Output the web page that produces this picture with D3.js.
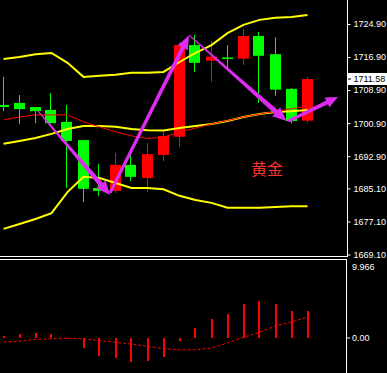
<!DOCTYPE html>
<html>
<head>
<meta charset="utf-8">
<script src="https://cdn.jsdelivr.net/npm/d3@7/dist/d3.min.js"></script>
<style>
  body { margin: 0; background: #000; }
  svg { display: block; }
  .ax text { font: 9px "Liberation Sans", Arial, sans-serif; fill: #fff; }
</style>
</head>
<body>
<script>
// candle data, one row per bar: open, high, low, close
var opens  = [1705.3, 1705.8, 1704.8, 1704.1, 1701.2, 1696.8, 1685.2, 1684.5, 1690.8, 1687.6,
              1693.2, 1697.6, 1719.8, 1716.0, 1716.8, 1716.5, 1722.0, 1717.6, 1709.2, 1701.5];
var highs  = [1712.1, 1707.7, 1704.8, 1708.2, 1705.3, 1696.8, 1691.0, 1693.7, 1693.4, 1696.1,
              1698.8, 1720.5, 1722.2, 1720.8, 1719.8, 1723.7, 1723.0, 1721.7, 1709.4, 1712.1];
var lows   = [1703.8, 1700.7, 1700.9, 1700.8, 1685.2, 1681.8, 1683.3, 1684.0, 1686.9, 1684.2,
              1691.7, 1695.1, 1713.3, 1710.9, 1713.8, 1715.0, 1705.8, 1707.5, 1700.8, 1701.0];
var closes = [1704.8, 1704.3, 1703.8, 1700.9, 1696.6, 1685.0, 1684.5, 1690.8, 1687.9, 1693.4,
              1697.8, 1719.8, 1715.5, 1717.0, 1716.5, 1722.0, 1717.2, 1709.0, 1701.4, 1711.58];

// bollinger bands + moving average
var bbUpper = [1716.4, 1716.9, 1717.6, 1717.9, 1715.5, 1712.1, 1712.4, 1712.6, 1713.1, 1713.1,
               1713.3, 1715.7, 1717.9, 1719.8, 1722.7, 1724.7, 1725.9, 1726.4, 1726.6, 1727.1];
var bbMid   = [1695.9, 1696.6, 1697.3, 1698.3, 1699.5, 1700.2, 1700.2, 1700.0, 1699.5, 1699.2,
               1699.1, 1699.7, 1700.2, 1700.7, 1701.4, 1702.4, 1703.1, 1703.6, 1703.8, 1704.1];
var bbLower = [1675.3, 1676.5, 1677.7, 1679.1, 1684.2, 1687.9, 1687.6, 1686.4, 1685.2, 1685.2,
               1684.9, 1683.3, 1682.3, 1681.6, 1680.4, 1680.4, 1680.4, 1680.6, 1680.8, 1680.8];
var maLine  = [1701.7, 1702.4, 1702.9, 1702.9, 1702.9, 1701.2, 1700.0, 1698.8, 1697.8, 1697.2,
               1697.5, 1698.8, 1699.7, 1700.7, 1701.5, 1702.4, 1703.1, 1703.7, 1704.4, 1705.0];

// lower window: histogram and signal
var histo  = [0.3, 0.5, 0.65, 0.5, -0.1, -1.3, -2.3, -2.6, -3.1, -3.0,
              -2.5, -0.4, 1.3, 2.5, 3.2, 4.4, 4.8, 4.4, 3.5, 3.5];
var signal = [-0.55, -0.4, -0.2, -0.1, 0, -0.1, -0.35, -0.55, -0.8, -1.1,
              -1.4, -1.55, -1.55, -1.3, -0.65, 0.1, 0.75, 1.6, 2.1, 2.75];

// hand drawn arrows: [index, price] pairs
var arrows = [
  [[2.16, 1703.8], [6.66, 1683.5]],
  [[6.66, 1684.0], [11.6, 1722.2]],
  [[11.6, 1722.2], [17.7, 1701.4]],
  [[17.8, 1701.4], [20.9, 1707.2]]
];

var priceTicks = [1724.90, 1716.90, 1708.90, 1700.90, 1692.90, 1685.10, 1677.10, 1669.10];
var lastPrice = 1711.58;
var subTicks = [9.966, 0];

var W = 387, H = 373, axisX = 347;

var svg = d3.select("body").append("svg")
    .attr("width", W)
    .attr("height", H)
    .style("background", "#000");

var x = d3.scaleLinear().domain([0, 19]).range([3.5, 307.5]);
var y = d3.scaleLinear().domain([1669.10, 1724.90]).range([254.5, 24]);
var ySub = d3.scaleLinear().domain([0, 9.966]).range([338, 262]);

var idx = d3.range(opens.length);

// candles
var candle = svg.append("g").selectAll("g")
    .data(idx)
    .enter().append("g");

candle.append("line")
    .attr("x1", function(i) { return Math.round(x(i)) - 0.5; })
    .attr("x2", function(i) { return Math.round(x(i)) - 0.5; })
    .attr("y1", function(i) { return y(highs[i]); })
    .attr("y2", function(i) { return y(lows[i]); })
    .attr("stroke", function(i) { return closes[i] >= opens[i] ? "#ff0000" : "#00ff00"; })
    .attr("stroke-width", 1);

candle.append("rect")
    .attr("x", function(i) { return Math.round(x(i)) - 6; })
    .attr("width", 11)
    .attr("y", function(i) { return y(Math.max(opens[i], closes[i])); })
    .attr("height", function(i) { return Math.max(1.5, Math.abs(y(opens[i]) - y(closes[i]))); })
    .attr("fill", function(i) { return closes[i] >= opens[i] ? "#ff0000" : "#00ff00"; });

// indicator lines
function priceLine(arr) {
  return d3.line()
    .x(function(d, i) { return x(i); })
    .y(function(d) { return y(d); })(arr);
}

[bbUpper, bbMid, bbLower].forEach(function(b) {
  svg.append("path")
    .attr("d", priceLine(b))
    .attr("fill", "none")
    .attr("stroke", "#ffff00")
    .attr("stroke-width", 2);
});

svg.append("path")
    .attr("d", priceLine(maLine))
    .attr("fill", "none")
    .attr("stroke", "#ff0000")
    .attr("stroke-width", 1);

// arrows, tapered shaft with a triangle head
function arrowPath(p1, p2, w0, w1, headLen, headW) {
  var x1 = x(p1[0]), y1 = y(p1[1]), x2 = x(p2[0]), y2 = y(p2[1]);
  var dx = x2 - x1, dy = y2 - y1, len = Math.sqrt(dx * dx + dy * dy);
  var ux = dx / len, uy = dy / len, nx = -uy, ny = ux;
  var bx = x2 - ux * headLen, by = y2 - uy * headLen;
  var pts = [
    [x1 + nx * w0 / 2, y1 + ny * w0 / 2],
    [bx + nx * w1 / 2, by + ny * w1 / 2],
    [bx + nx * headW / 2, by + ny * headW / 2],
    [x2, y2],
    [bx - nx * headW / 2, by - ny * headW / 2],
    [bx - nx * w1 / 2, by - ny * w1 / 2],
    [x1 - nx * w0 / 2, y1 - ny * w0 / 2]
  ];
  return "M" + pts.map(function(p) { return p[0] + "," + p[1]; }).join("L") + "Z";
}

var arrowStyle = [[1, 5, 14, 12], [3, 4, 14, 11], [1, 5, 14, 12], [3, 4, 12, 11]];

svg.append("g").selectAll("path")
    .data(arrows)
    .enter().append("path")
    .attr("d", function(a, i) {
      var s = arrowStyle[i];
      return arrowPath(a[0], a[1], s[0], s[1], s[2], s[3]);
    })
    .attr("fill", "#dd2cf2");

// label
svg.append("text")
    .attr("x", 267)
    .attr("y", 169)
    .attr("dy", "0.35em")
    .attr("text-anchor", "middle")
    .style("font", "16px 'Noto Sans CJK SC', sans-serif")
    .style("fill", "#ff3030")
    .text("黄金");

// lower window histogram
svg.append("g").selectAll("rect")
    .data(histo)
    .enter().append("rect")
    .attr("x", function(d, i) { return Math.round(x(i)) - 1; })
    .attr("width", 2)
    .attr("y", function(d) { return Math.round(Math.min(ySub(d), ySub(0))); })
    .attr("height", function(d) { return Math.max(1, Math.round(Math.abs(ySub(d) - ySub(0)))); })
    .attr("fill", "#ff0000");

svg.append("path")
    .attr("d", d3.line()
      .x(function(d, i) { return x(i); })
      .y(function(d) { return ySub(d); })(signal))
    .attr("fill", "none")
    .attr("stroke", "#ff0000")
    .attr("stroke-width", 1)
    .attr("stroke-dasharray", "3,2");

// frame lines
svg.append("line").attr("x1", axisX + 0.5).attr("x2", axisX + 0.5)
    .attr("y1", 0).attr("y2", 257).attr("stroke", "#fff");
svg.append("line").attr("x1", axisX - 0.5).attr("x2", axisX - 0.5)
    .attr("y1", 259).attr("y2", H).attr("stroke", "#fff");
svg.append("line").attr("x1", 0).attr("x2", axisX + 1)
    .attr("y1", 256.5).attr("y2", 256.5).attr("stroke", "#fff");
svg.append("line").attr("x1", 0).attr("x2", axisX)
    .attr("y1", 259.5).attr("y2", 259.5).attr("stroke", "#fff");

// price axis
var yAxis = svg.append("g")
    .attr("class", "ax")
    .attr("transform", "translate(" + (axisX + 0.5) + ",0)")
    .call(d3.axisRight(y).tickValues(priceTicks).tickSize(3).tickPadding(3)
      .tickFormat(d3.format(".2f")));
yAxis.select(".domain").remove();
yAxis.selectAll("line").attr("stroke", "#fff");

// current price box
svg.append("rect")
    .attr("x", axisX + 1)
    .attr("y", y(lastPrice) - 6)
    .attr("width", W - axisX - 1)
    .attr("height", 12)
    .attr("fill", "#fff");
svg.append("line").attr("x1", axisX + 1).attr("x2", axisX + 4)
    .attr("y1", y(lastPrice)).attr("y2", y(lastPrice)).attr("stroke", "#000");
svg.append("text")
    .attr("x", axisX + 6.5)
    .attr("y", y(lastPrice))
    .attr("dy", "0.32em")
    .style("font", "9px 'Liberation Sans', Arial, sans-serif")
    .style("fill", "#000")
    .text(d3.format(".2f")(lastPrice));

// lower window axis labels
svg.append("g").selectAll("text")
    .data(subTicks)
    .enter().append("text")
    .attr("x", axisX + 5)
    .attr("y", function(d) { return d === 0 ? ySub(0) : 267; })
    .attr("dy", "0.32em")
    .style("font", "9px 'Liberation Sans', Arial, sans-serif")
    .style("fill", "#fff")
    .text(function(d) { return d === 0 ? "0.00" : d3.format(".3f")(d); });

svg.append("line").attr("x1", axisX - 0.5).attr("x2", axisX + 3)
    .attr("y1", ySub(0)).attr("y2", ySub(0)).attr("stroke", "#fff");
</script>
</body>
</html>
